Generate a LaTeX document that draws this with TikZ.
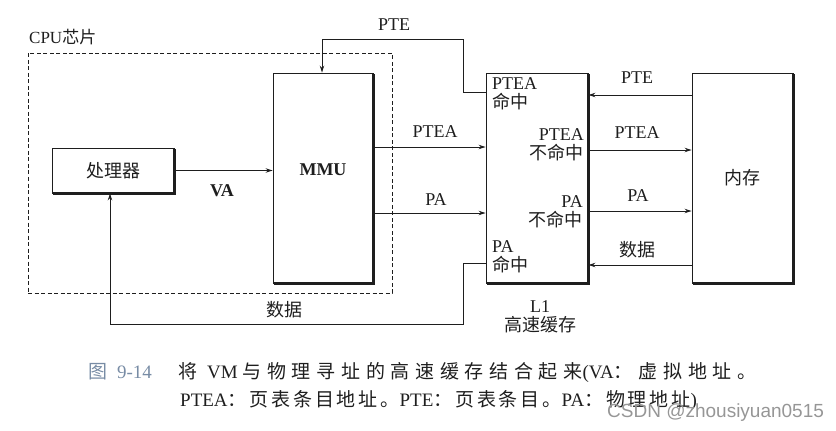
\documentclass[tikz,border=0pt]{standalone}
\usepackage{fontspec}
\setmainfont{Liberation Serif}
\newfontfamily\cjk{Noto Sans CJK SC}
\newfontfamily\cjkcap[LetterSpace=30]{Noto Sans CJK SC}
\newfontfamily\cjkcapb[LetterSpace=15]{Noto Sans CJK SC}
\newfontfamily\latcap{Liberation Serif}
\newfontfamily\wmfont{Liberation Sans}
\usetikzlibrary{arrows.meta}
\definecolor{ink}{RGB}{30,30,30}
\definecolor{capblue}{RGB}{120,140,165}
\definecolor{wmgray}{RGB}{150,150,150}
\begin{document}
\begin{tikzpicture}[x=1pt,y=-1pt,
  lbl/.style={font=\fontsize{18}{19}\selectfont, inner sep=0pt, text=ink},
  blk/.style={draw=ink, line width=0.9pt, inner sep=0pt, font=\fontsize{18}{19}\selectfont, text=ink},
  shadowline/.style={draw=ink, line width=2.2pt},
  arr/.style={draw=ink, line width=0.9pt, -{Stealth[length=7pt,width=4.5pt]}},
  capfont/.style={font=\fontsize{19}{27}\selectfont, inner sep=0pt, anchor=base west}
]
\useasboundingbox (0,0) rectangle (836,431);

% dashed CPU chip boundary
\node[draw=ink, dashed, dash pattern=on 4pt off 2.5pt, line width=0.9pt,
      minimum width=364pt, minimum height=240pt, inner sep=0pt] (cpu) at (210,173) {};
\node[anchor=west, inner sep=0pt, font=\fontsize{17}{17}\selectfont, text=ink] (cpul) at (29,37) {CPU{\cjk 芯片}};

% blocks
\node[blk, minimum width=122pt, minimum height=45pt] (proc) at (113,170.5) {\cjk 处理器};
\node[blk, minimum width=100pt, minimum height=210pt] (mmu) at (323,178) {};
\node[lbl, font=\fontsize{18}{19}\selectfont\bfseries] (mmut) at (323,170) {MMU};
\node[blk, minimum width=102pt, minimum height=210pt] (l1) at (537,178) {};
\node[blk, minimum width=101pt, minimum height=210pt] (mem) at (742.5,178) {\cjk 内存};

\foreach \n in {proc,mmu,l1,mem}
  \draw[shadowline] ([yshift=-1.5pt]\n.north east) -- (\n.south east) -- ([xshift=1.5pt]\n.south west);

% labels inside L1
\node[lbl, align=left, anchor=north west] (l1a) at (492,77) {PTEA\\{\cjk 命中}};
\node[lbl, align=right, anchor=north east] (l1b) at (584,128) {PTEA\\{\cjk 不命中}};
\node[lbl, align=right, anchor=north east] (l1c) at (583,195) {PA\\{\cjk 不命中}};
\node[lbl, align=left, anchor=north west] (l1d) at (492,240) {PA\\{\cjk 命中}};
\node[lbl, align=center, anchor=north] (l1n) at (540,300) {L1\\{\cjk 高速缓存}};

% connectors
\draw[arr] (proc.east) -- (proc.east -| mmu.west);
\node[lbl, font=\fontsize{18}{19}\selectfont\bfseries] (va) at (222,191) {VA};

\draw[arr] ([yshift=31pt]mmu.east) -- ([yshift=31pt]l1.west);
\node[lbl] (ptea1) at (435,132) {PTEA};
\draw[arr] ([yshift=-35pt]mmu.east) -- ([yshift=-35pt]l1.west);
\node[lbl] (pa1) at (436,200) {PA};

\draw[arr] ([yshift=83pt]mem.west) -- ([yshift=83pt]l1.east);
\node[lbl] (pte2) at (637,78) {PTE};
\draw[arr] ([yshift=28pt]l1.east) -- ([yshift=28pt]mem.west);
\node[lbl] (ptea2) at (637,133) {PTEA};
\draw[arr] ([yshift=-33pt]l1.east) -- ([yshift=-33pt]mem.west);
\node[lbl] (pa2) at (638,196) {PA};
\draw[arr] ([yshift=-87pt]mem.west) -- ([yshift=-87pt]l1.east);
\node[lbl] (dat2) at (637,250) {\cjk 数据};

\coordinate (ptek) at (463,39);
\draw[arr] ([yshift=86pt]l1.west) -| (ptek) -| ([xshift=-1pt]mmu.north);
\node[lbl] (pte1) at (394,25) {PTE};

\coordinate (datk) at (463,324);
\draw[arr] ([yshift=-85pt]l1.west) -| (datk) -| ([xshift=-3pt]proc.south);
\node[lbl] (dat1) at (284,310) {\cjk 数据};

% caption
\node[capfont, text=capblue] (fig) at (88,378) {\cjkcap 图 \latcap 9-14};
\node[capfont, text=ink] (cap1) at (178,378) {\cjkcap 将 \latcap VM \cjkcap 与物理寻址的高速缓存结合起来\latcap (VA\cjkcap ：虚拟地址。};
\node[capfont, text=ink] (cap2) at (180,406) {\latcap PTEA\cjkcapb ：页表条目地址。\latcap PTE\cjkcapb ：页表条目。\latcap PA\cjkcapb ：物理地址\latcap )};

% watermark
\node[anchor=base west, inner sep=0pt, font=\wmfont\fontsize{19}{19}\selectfont, text=wmgray] (wm) at (607,417) {CSDN @zhousiyuan0515};
\end{tikzpicture}
\end{document}
